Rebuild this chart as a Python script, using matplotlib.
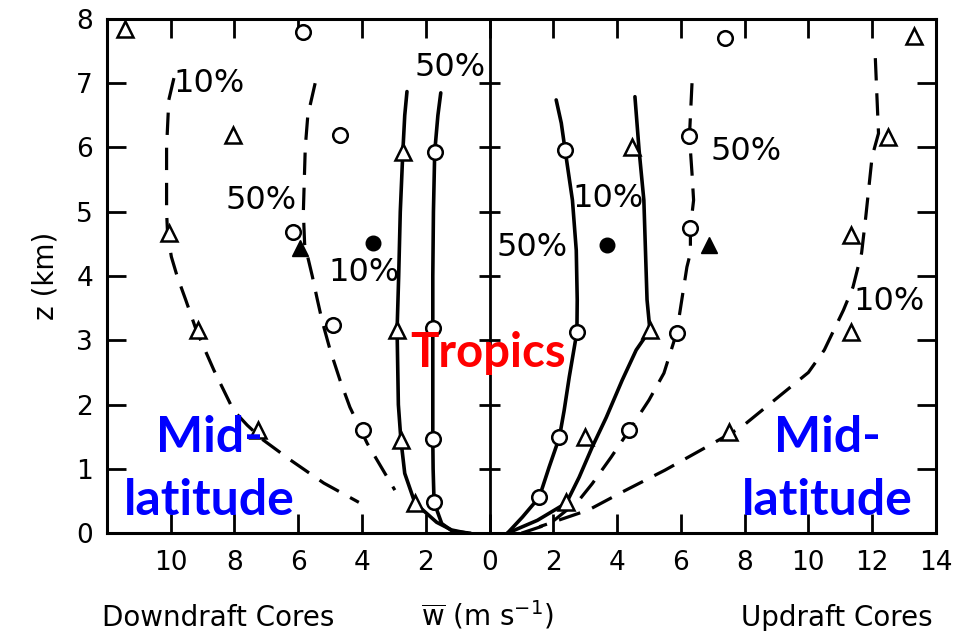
import matplotlib
matplotlib.use('Agg')
import matplotlib.pyplot as plt

# Vertical velocity profiles in convective cores: downdrafts on the left,
# updrafts on the right. Heights z in km, speeds w in m/s (magnitudes).

# Mid-latitude downdraft cores, 10% and 50% curves (dashed)
mid_down10_z = [7.08, 6.74, 6.0, 5.0, 4.67, 4.3, 4.0, 3.63, 3.16, 2.54, 1.91, 1.68, 1.45, 1.14, 0.78, 0.48]
mid_down10_w = [9.9, 10.06, 10.13, 10.13, 10.1, 9.98, 9.8, 9.53, 9.2, 8.65, 8.03, 7.6, 7.1, 6.25, 5.2, 4.1]
mid_down50_z = [7.0, 6.5, 6.0, 5.0, 4.5, 4.0, 3.63, 3.3, 2.85, 2.38, 1.96, 1.4, 0.98, 0.67]
mid_down50_w = [5.47, 5.7, 5.78, 5.84, 5.8, 5.56, 5.4, 5.25, 5.0, 4.69, 4.38, 3.84, 3.34, 2.97]

# Tropical downdraft cores (solid)
trop_down10_z = [6.87, 6.5, 5.93, 5.0, 4.0, 3.16, 2.0, 1.45, 0.93, 0.47, 0.17, 0.05, 0.0]
trop_down10_w = [2.59, 2.66, 2.72, 2.8, 2.85, 2.9, 2.86, 2.78, 2.66, 2.34, 1.66, 1.19, 0.7]
trop_down50_z = [6.85, 6.5, 5.93, 5.0, 4.0, 3.19, 2.0, 1.46, 1.0, 0.48, 0.15, 0.03, 0.0]
trop_down50_w = [1.53, 1.62, 1.72, 1.76, 1.78, 1.78, 1.78, 1.78, 1.77, 1.74, 1.5, 1.16, 0.6]

# Tropical updraft cores (solid)
trop_up50_z = [6.74, 6.38, 5.96, 5.18, 4.4, 3.63, 3.13, 2.43, 1.91, 1.49, 1.03, 0.56, 0.25, 0.0]
trop_up50_w = [2.09, 2.25, 2.37, 2.6, 2.72, 2.75, 2.74, 2.5, 2.34, 2.19, 1.87, 1.56, 1.03, 0.56]
trop_up10_z = [6.79, 5.96, 5.18, 3.63, 3.16, 2.85, 2.38, 1.8, 1.34, 0.87, 0.47, 0.2, 0.0]
trop_up10_w = [4.56, 4.69, 4.84, 4.94, 5.03, 4.6, 4.16, 3.66, 3.22, 2.81, 2.41, 1.5, 0.56]

# Mid-latitude updraft cores (dashed)
mid_up50_z = [7.0, 6.48, 6.18, 5.6, 5.18, 4.75, 4.36, 4.14, 3.63, 3.12, 2.49, 2.07, 1.6, 1.18, 0.77, 0.51, 0.15, 0.0]
mid_up50_w = [6.35, 6.3, 6.27, 6.35, 6.4, 6.3, 6.3, 6.19, 6.03, 5.87, 5.47, 5.0, 4.38, 3.81, 3.22, 2.8, 1.9, 1.0]
mid_up10_z = [7.39, 6.8, 6.22, 5.86, 4.92, 4.36, 3.83, 3.47, 2.85, 2.5, 2.12, 1.65, 1.34, 0.98, 0.64, 0.36, 0.1]
mid_up10_w = [12.1, 12.15, 12.2, 12.0, 11.8, 11.67, 11.4, 11.1, 10.5, 10.0, 9.06, 7.9, 6.8, 5.5, 4.16, 3.1, 1.56]

# Individual case points
trop_down_tri_z = [5.93, 3.16, 1.45, 0.47]
trop_down_tri_w = [2.72, 2.9, 2.78, 2.34]
trop_down_circ_z = [5.93, 3.19, 1.46, 0.48]
trop_down_circ_w = [1.72, 1.78, 1.78, 1.74]
trop_up_circ_z = [5.96, 3.13, 1.49, 0.56]
trop_up_circ_w = [2.37, 2.74, 2.19, 1.56]
trop_up_tri_z = [6.0, 3.16, 1.5, 0.48]
trop_up_tri_w = [4.47, 5.03, 3.0, 2.41]

mid_down_tri_z = [7.84, 6.2, 4.67, 3.16, 1.6]
mid_down_tri_w = [11.44, 8.06, 10.06, 9.16, 7.25]
mid_down_circ_z = [7.8, 6.2, 4.69, 3.24, 1.6]
mid_down_circ_w = [5.84, 4.69, 6.16, 4.9, 3.97]
mid_up_tri_z = [7.73, 6.17, 4.64, 3.13, 1.57]
mid_up_tri_w = [13.3, 12.5, 11.35, 11.35, 7.5]
mid_up_circ_z = [7.7, 6.18, 4.75, 3.12, 1.6]
mid_up_circ_w = [7.4, 6.27, 6.3, 5.87, 4.38]

# Filled symbols (one each side)
filled_tri_w = [-5.94, 6.88]
filled_tri_z = [4.43, 4.48]
filled_circ_w = [-3.66, 3.69]
filled_circ_z = [4.52, 4.48]

# Percentile labels: (text, w, z), w negative for downdrafts
pct_labels = [('10%', -8.81, 7.0), ('50%', -7.16, 5.17), ('10%', -3.94, 4.05),
              ('50%', -1.25, 7.24), ('50%', 1.34, 4.45), ('10%', 3.72, 5.21),
              ('50%', 8.06, 5.93), ('10%', 12.53, 3.6)]

x_ticks = [-10, -8, -6, -4, -2, 0, 2, 4, 6, 8, 10, 12, 14]
z_ticks = [0, 1, 2, 3, 4, 5, 6, 7, 8]


def neg(values):
    """ Downdrafts are drawn to the left of zero """
    return [-v for v in values]


fig = plt.figure(figsize=(9.55, 6.31), dpi=100)
ax = fig.add_axes([0.112, 0.155, 0.868, 0.815])

solid = dict(color='black', lw=2.6, solid_capstyle='round')
dashed = dict(color='black', lw=2.3, dashes=(7, 4))

ax.plot(neg(mid_down10_w), mid_down10_z, **dashed)
ax.plot(neg(mid_down50_w), mid_down50_z, **dashed)
ax.plot(neg(trop_down10_w), trop_down10_z, **solid)
ax.plot(neg(trop_down50_w), trop_down50_z, **solid)
ax.plot(trop_up50_w, trop_up50_z, **solid)
ax.plot(trop_up10_w, trop_up10_z, **solid)
ax.plot(mid_up50_w, mid_up50_z, **dashed)
ax.plot(mid_up10_w, mid_up10_z, **dashed)

tri = dict(ls='none', marker='^', ms=11, mfc='white', mec='black', mew=1.8, zorder=3)
circ = dict(ls='none', marker='o', ms=10.5, mfc='white', mec='black', mew=1.8, zorder=3)

ax.plot(neg(trop_down_tri_w), trop_down_tri_z, **tri)
ax.plot(neg(trop_down_circ_w), trop_down_circ_z, **circ)
ax.plot(trop_up_circ_w, trop_up_circ_z, **circ)
ax.plot(trop_up_tri_w, trop_up_tri_z, **tri)
ax.plot(neg(mid_down_tri_w), mid_down_tri_z, **tri)
ax.plot(neg(mid_down_circ_w), mid_down_circ_z, **circ)
ax.plot(mid_up_tri_w, mid_up_tri_z, **tri)
ax.plot(mid_up_circ_w, mid_up_circ_z, **circ)

ax.plot(filled_tri_w, filled_tri_z, ls='none', marker='^', ms=12, color='black', zorder=3)
ax.plot(filled_circ_w, filled_circ_z, ls='none', marker='o', ms=10.5, color='black', zorder=3)

# Centre line at w = 0 with cross ticks
ax.axvline(0, color='black', lw=2.0)
ax.hlines(z_ticks[1:-1], -0.34, 0.34, color='black', lw=2.0)

for text, x, z in pct_labels:
    ax.text(x, z, text, fontsize=23, ha='center', va='center')

# Regime labels
ax.text(-0.06, 2.58, 'Tropics', color='red', fontsize=34, fontweight='bold',
        family='Lato', ha='center', va='baseline')
for x in (-8.78, 10.6):
    ax.text(x, 1.26, 'Mid-', color='blue', fontsize=36, fontweight='bold',
            family='Lato', ha='center', va='baseline')
    ax.text(x, 0.28, 'latitude', color='blue', fontsize=36, fontweight='bold',
            family='Lato', ha='center', va='baseline')

ax.set_xlim(-12, 14)
ax.set_ylim(0, 8)
ax.set_xticks(x_ticks)
ax.set_xticklabels([str(abs(t)) for t in x_ticks])
ax.set_yticks(z_ticks)
ax.tick_params(direction='in', length=14, width=2.0, top=True, right=True,
               labelsize=19)
ax.tick_params(axis='x', pad=12)
ax.tick_params(axis='y', pad=10)
for spine in ax.spines.values():
    spine.set_linewidth(2.2)

ax.set_ylabel('z (km)', fontsize=20, labelpad=12)

fig.text(0.228, 0.008, 'Downdraft Cores', fontsize=20, ha='center', va='baseline')
fig.text(0.51, 0.008, r'$\overline{\mathrm{w}}$ (m s$^{-1}$)', fontsize=20,
         ha='center', va='baseline')
fig.text(0.876, 0.008, 'Updraft Cores', fontsize=20, ha='center', va='baseline')

plt.savefig('out.png', dpi=100)
